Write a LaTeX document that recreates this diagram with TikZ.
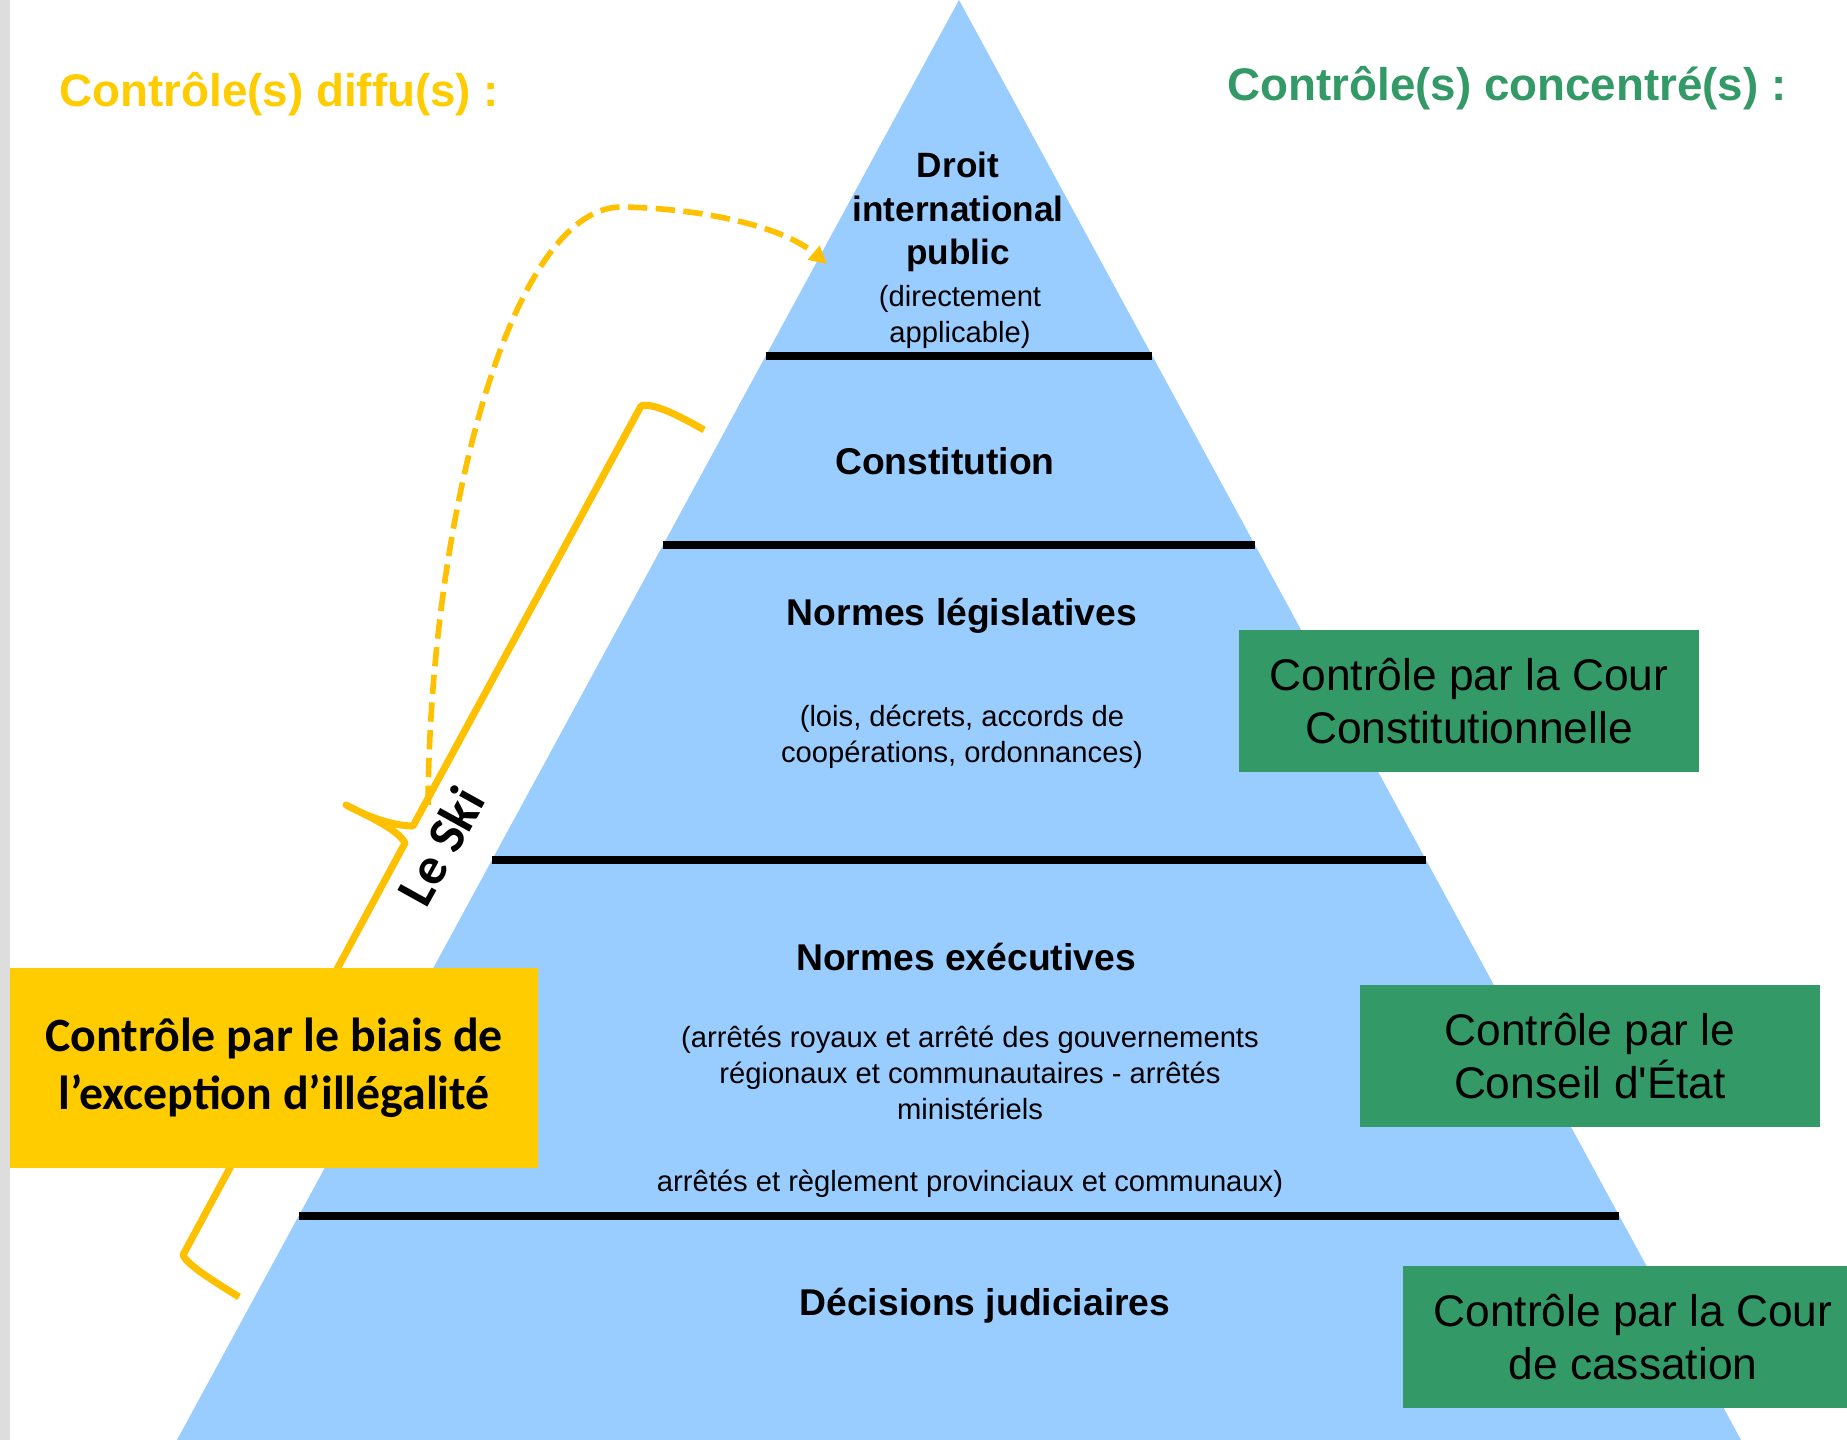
\documentclass[tikz,border=0pt]{standalone}
\usepackage{fontspec}
\setmainfont{Liberation Sans}
\newfontfamily\calibri{Carlito}
\usetikzlibrary{arrows.meta}
\definecolor{mblue}{HTML}{99CCFF}
\definecolor{mgreen}{HTML}{339966}
\definecolor{mgold}{HTML}{FFCC00}
\definecolor{mamber}{HTML}{FFC000}
\definecolor{mgray}{HTML}{DDDDDD}
\tikzset{
  lvl/.style={font=\fontsize{10.6}{12.4}\selectfont\bfseries, align=center, inner sep=0pt},
  sub/.style={font=\fontsize{8.3}{10.2}\selectfont, align=center, inner sep=0pt},
  gbox/.style={fill=mgreen, minimum width=4.6cm, minimum height=1.41cm, inner sep=0pt,
               font=\fontsize{12.6}{15}\selectfont, align=center},
  ybox/.style={fill=mgold, minimum width=5.28cm, minimum height=1.99cm, inner sep=0pt,
               font=\calibri\bfseries\fontsize{13.6}{16.4}\selectfont, align=center},
  titre/.style={font=\fontsize{13}{15}\selectfont\bfseries, anchor=base west, inner sep=0pt},
  sepline/.style={line width=2.3pt, black},
  accolade/.style={line width=2pt, mamber, line join=round},
  darr/.style={-{Triangle[length=5pt,width=5pt]}, line width=1.6pt, mamber,
               dash pattern=on 5.5pt off 2.4pt},
}

\begin{document}
\begin{tikzpicture}[x=0.01cm, y=-0.01cm]
  \useasboundingbox (0,0) rectangle (1847,1440);
  \fill[mgray] (0,0) rectangle (10,1440);

  % Pyramide
  \fill[mblue] (959,0) -- (1741,1440) -- (177,1440) -- cycle;
  \foreach \yy in {356,545,860,1216}
    \draw[sepline] ({959-0.543*\yy},\yy) -- ({959+0.543*\yy},\yy);

  % Titres
  \node[titre, mgold] (diffus) at (59,107) {Contrôle(s) diffu(s) :};
  \node[titre, mgreen] (concentres) at (1227,101) {Contrôle(s) concentré(s) :};

  % Niveaux
  \node[lvl, font=\fontsize{10}{12.4}\selectfont\bfseries] (dip) at (958,212)
    {Droit\\international\\public};
  \node[sub] (dipsub) at (960,317) {(directement\\applicable)};
  \node[lvl] (const) at (945,461) {Constitution};
  \node[lvl] (legis) at (962,616) {Normes législatives};
  \node[sub] (legsub) at (962,737) {(lois, décrets, accords de\\coopérations, ordonnances)};
  \node[lvl] (exec) at (966,957) {Normes exécutives};
  \node[sub] (execsub) at (970,1112) {(arrêtés royaux et arrêté des gouvernements\\
    régionaux et communautaires - arrêtés\\ministériels\\[10.2pt]
    arrêtés et règlement provinciaux et communaux)};
  \node[lvl] (judic) at (985,1306) {Décisions judiciaires};

  % Contrôle concentré
  \node[gbox] (cc) at (1469,701) {Contrôle par la Cour\\Constitutionnelle};
  \node[gbox] (ce) at (1590,1056) {Contrôle par le\\Conseil d\textquotesingle État};
  \node[gbox] (cass) at (1633,1337) {Contrôle par la Cour\\de cassation};

  % Accolade + exception d'illégalité
  \draw[accolade] (704,430) .. controls (680,416) and (652,402) .. (641,406)
    -- (413,826) .. controls (392,826) and (366,816) .. (346,805)
    .. controls (372,818) and (398,830) .. (405,843)
    -- (183,1255) .. controls (186,1263) and (205,1276) .. (239,1297);
  \node[ybox] (exception) at (274,1068) {Contrôle par le biais de\\l’exception d’illégalité};
  \node[font=\calibri\bfseries\fontsize{15}{18}\selectfont, rotate=61, inner sep=0pt]
    (ski) at (441,846) {Le Ski};

  % Fleche vers le droit international
  \coordinate (skitop) at (428,805);
  \coordinate (dipedge) at (827,264);
  \draw[darr] (skitop) .. controls (430,520) and (510,210) .. (620,207)
    .. controls (700,208) and (782,226) .. (dipedge);
\end{tikzpicture}
\end{document}
